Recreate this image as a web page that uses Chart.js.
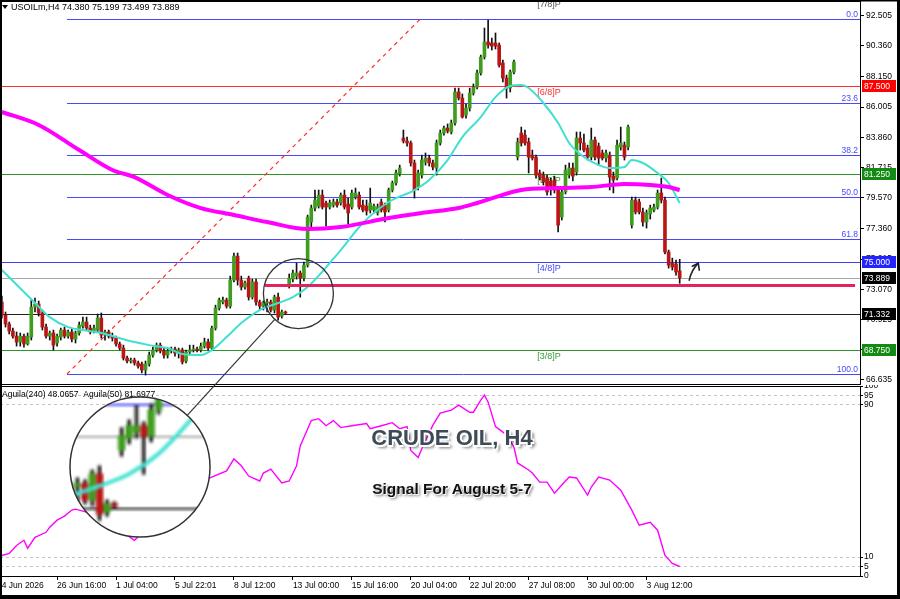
<!DOCTYPE html>
<html><head><meta charset="utf-8">
<script src="https://cdn.jsdelivr.net/npm/chart.js@4.4.0/dist/chart.umd.min.js"></script>
<style>
html,body{margin:0;padding:0;background:#fff;}
#wrap{position:relative;width:900px;height:599px;overflow:hidden;background:#fff;}
#c1{position:absolute;left:0;top:0;}
#c2{position:absolute;left:0;top:385px;}
#ov{position:absolute;left:0;top:0;pointer-events:none;}
.txt{position:absolute;left:300px;width:304px;text-align:center;font-family:"Liberation Sans",Arial,sans-serif;font-weight:bold;white-space:nowrap;}
#title{top:425px;font-size:22px;color:#3d4b56;
 text-shadow:-1.5px -1.5px 0 #fff,1.5px -1.5px 0 #fff,-1.5px 1.5px 0 #fff,1.5px 1.5px 0 #fff,3px 3px 3px rgba(0,0,0,.55);}
#sub{top:480px;font-size:15.5px;color:#111;text-shadow:1px 1px 0 #fff,2px 2px 3px rgba(0,0,0,.6);}
</style></head>
<body>
<div id="wrap">
<canvas id="c1" width="900" height="386"></canvas>
<canvas id="c2" width="900" height="214"></canvas>
<canvas id="ov" width="900" height="599"></canvas>
<div id="title" class="txt">CRUDE OIL, H4</div>
<div id="sub" class="txt">Signal For August 5-7</div>
</div>
<script>
// ---------------- DATA ----------------
const symbolText = 'USOILm,H4';
const lastQuote = ['74.380','75.199','73.499','73.889'];
const opens = [72.17,71.25,70.61,70.11,69.75,69.33,69.75,69.19,69.68,71.81,
72.03,71.39,70.39,69.75,69.97,69.26,69.68,70.18,69.75,70.04,
69.54,69.97,70.46,70.75,70.32,70.11,70.18,71.03,69.82,70.04,
69.75,69.61,69.19,68.90,68.19,67.98,68.05,67.84,67.77,67.34,
67.77,68.40,68.76,69.11,68.69,68.40,68.69,68.83,68.55,68.76,
67.98,68.62,68.76,68.83,68.76,69.04,69.33,68.90,70.32,71.74,
72.17,72.31,71.88,73.73,75.43,73.73,73.23,73.87,72.52,73.59,
72.17,71.88,72.10,72.17,71.60,72.52,71.17,71.46,73.37,73.80,
74.01,74.23,73.87,74.79,77.85,78.84,78.98,79.76,79.20,78.91,
79.05,79.27,79.20,79.76,79.13,78.91,79.62,79.76,79.05,78.98,
78.70,78.70,78.49,79.27,79.05,78.70,80.12,80.62,81.26,83.81,
83.60,83.46,82.04,80.33,81.18,82.11,82.39,82.04,81.68,83.46,
84.17,84.52,84.24,84.88,87.08,86.65,85.44,85.94,87.01,87.43,
88.43,89.56,90.63,90.56,90.56,90.41,89.14,88.07,87.36,88.50,
82.46,84.17,84.02,83.53,82.60,82.46,81.33,81.18,80.97,80.76,
80.83,80.12,78.20,79.98,81.18,81.68,81.40,83.81,83.46,83.10,
82.46,83.67,83.24,82.75,82.39,82.60,81.11,80.97,83.17,83.31,
83.17,77.63,79.41,79.27,78.56,77.85,78.42,78.70,78.91,79.91,
79.41,75.72,74.94,74.87,74.38];
const highs = [72.59,71.46,70.75,70.32,70.04,69.97,69.90,69.97,72.31,72.45,
72.24,71.60,70.61,70.11,70.18,69.90,70.32,70.39,70.18,70.25,
70.11,70.75,71.10,71.10,70.53,70.53,71.32,71.39,70.18,70.18,
69.97,69.75,69.33,69.11,68.33,68.19,68.19,67.98,67.91,67.98,
68.62,68.97,69.26,69.26,68.90,68.83,68.97,68.97,68.90,68.90,
68.76,69.11,69.11,68.97,69.26,69.61,69.54,70.46,71.95,72.45,
72.52,72.45,74.01,75.65,75.65,74.01,73.66,74.01,73.80,73.80,
72.31,72.24,72.38,72.31,72.66,72.81,71.60,71.53,74.16,74.44,
74.94,74.37,75.01,78.34,79.05,80.12,80.12,80.12,79.34,79.41,
79.48,79.48,79.91,80.12,79.55,80.12,80.26,79.98,79.41,79.41,
80.26,79.13,79.13,79.48,79.20,80.26,80.76,81.54,81.89,84.38,
83.88,83.60,82.25,81.54,82.60,82.75,82.60,82.25,83.67,84.38,
84.66,84.81,85.09,87.36,87.36,86.94,86.23,87.36,87.65,88.64,
89.70,91.62,92.19,90.91,91.27,90.56,89.35,88.28,88.64,89.35,
83.81,84.59,84.38,83.81,82.96,82.60,81.54,81.40,81.18,80.97,
81.11,80.33,80.12,81.89,82.04,82.04,84.24,84.24,84.10,83.31,
84.52,83.88,83.46,82.96,82.96,82.82,81.40,83.67,84.59,83.53,
84.73,79.62,79.62,79.48,78.84,78.70,79.05,79.13,80.12,80.97,
79.62,75.86,75.29,75.15,75.199];
const lows = [71.03,70.39,69.90,69.61,69.04,69.04,68.97,69.11,69.47,71.46,
71.17,70.18,69.61,69.47,68.76,69.04,69.47,69.61,69.61,69.33,
69.26,69.82,70.32,70.18,69.90,69.97,70.04,69.61,69.47,69.61,
69.40,69.04,68.76,68.05,67.84,67.84,67.69,67.48,67.13,66.98,
67.62,68.26,68.62,68.55,68.19,68.19,68.55,68.33,68.19,67.77,
67.84,68.40,68.62,68.62,68.62,68.90,68.76,68.76,70.18,71.60,
72.03,71.74,71.74,73.59,73.37,73.02,73.09,72.31,72.38,71.95,
71.67,71.60,71.46,71.46,71.39,70.89,71.03,71.32,73.16,73.59,
73.80,72.52,73.66,74.65,77.42,78.63,78.84,78.77,77.56,78.77,
78.91,78.91,79.05,78.77,77.71,78.77,79.48,78.77,78.56,78.34,
78.49,78.49,78.34,78.56,77.85,78.56,79.98,80.47,81.11,83.46,
83.24,81.82,79.55,80.12,80.97,81.89,81.82,81.54,81.18,83.31,
84.02,84.17,84.10,84.73,86.51,85.23,85.23,85.73,86.86,87.29,
88.28,89.42,90.20,90.06,90.13,88.85,87.79,86.65,87.08,88.36,
82.25,83.24,83.31,81.33,82.25,80.97,80.83,80.47,79.76,79.76,
79.91,77.14,77.99,79.84,80.97,80.76,81.18,82.96,82.82,82.25,
82.25,82.25,81.89,82.25,82.11,80.12,79.91,80.83,82.96,82.25,
82.96,77.42,78.42,78.42,77.56,77.42,78.06,78.56,78.77,79.20,
75.58,74.58,74.44,74.08,73.499];
const closes = [71.25,70.61,70.11,69.75,69.33,69.75,69.19,69.75,71.81,72.03,
71.39,70.39,69.75,69.97,69.11,69.75,70.18,69.75,70.04,69.54,
69.97,70.53,70.75,70.32,70.04,70.32,71.03,69.82,70.04,69.75,
69.61,69.19,68.90,68.19,67.98,68.05,67.84,67.62,67.34,67.77,
68.40,68.76,69.11,68.69,68.40,68.69,68.83,68.55,68.76,67.91,
68.62,68.76,68.83,68.76,69.04,69.33,68.90,70.32,71.74,72.31,
72.31,71.88,73.73,75.43,73.73,73.23,73.52,72.52,73.59,72.17,
71.88,72.10,72.17,71.60,72.52,71.10,71.46,71.39,73.87,74.23,
74.23,73.87,74.79,78.20,78.84,79.41,79.76,78.91,78.91,79.20,
79.27,79.05,79.76,78.91,78.49,79.91,79.91,78.91,78.70,78.63,
79.20,78.98,78.91,78.70,78.56,80.12,80.62,81.33,81.68,83.60,
83.46,82.04,80.12,81.33,82.25,82.39,82.04,81.75,83.46,84.17,
84.52,84.31,84.88,87.08,86.65,85.30,85.94,87.01,87.43,88.43,
89.56,90.63,90.41,90.34,90.34,88.99,88.07,87.36,88.50,89.21,
83.53,83.46,83.46,82.46,82.39,81.18,81.04,80.69,79.98,80.33,
80.12,77.63,79.98,81.54,81.68,81.11,83.81,83.46,82.96,82.46,
83.67,82.46,82.39,82.39,82.75,81.04,80.83,83.31,83.46,82.46,
84.59,79.41,78.56,78.56,77.85,78.49,78.84,78.91,79.91,79.41,
75.72,74.79,74.65,74.30,73.889];

// moving average lines at these bar indices
const ma20Idx  = [0,9,13,18,22,27,31,36,40,45,49,54,57,61,65,70,75,79,83,92,98,105,112,116,121,125,130,134,138,141,143,147,151,154,158,162,165,169,171,174,178,181,184];
const ma20Vals = [74.44,72.10,71.10,70.39,70.18,69.97,69.68,69.33,69.11,68.90,68.48,68.40,68.76,69.68,70.68,71.60,72.10,72.52,73.23,75.86,77.78,79.27,80.12,80.83,82.25,83.88,85.30,86.72,87.50,87.57,87.36,86.30,84.88,83.46,82.46,81.89,81.68,81.75,82.25,82.04,81.33,80.62,79.20];
const ma200Idx  = [0,10,21,30,36,45,54,63,72,83,92,105,114,124,129,134,141,151,160,169,176,181,184];
const ma200Vals = [85.66,84.74,82.96,81.54,81.04,79.77,78.84,78.35,77.85,77.35,77.49,78.13,78.49,78.84,79.20,79.62,80.12,80.26,80.33,80.55,80.48,80.33,80.12];

// Aguila oscillator (0-100)
const aguilaIdx  = [0,2,4,6,7,9,12,13,15,17,19,20,27,32,36,40,46,51,56,61,63,65,67,70,71,73,76,78,80,81,84,86,88,90,92,95,99,100,103,106,108,110,111,113,115,117,119,122,124,127,128,130,131,132,134,137,139,140,143,144,146,148,150,152,154,156,159,160,162,165,168,171,173,176,178,180,182,184];
const aguilaVals = [10.8,11.9,16.1,18.8,14.6,20.4,23.0,25.7,29.4,31.5,34.7,35.2,31.5,24.1,18.8,26.2,37.0,45.0,51.3,55.3,61.6,58.0,52.6,50.0,54.2,56.3,49.0,50.0,58.0,68.5,81.8,82.8,79.1,81.8,78.1,79.1,80.2,77.5,79.1,80.7,77.5,78.6,66.1,62.4,71.4,79.4,85.7,87.3,89.9,86.2,86.2,92.6,95.2,91.5,78.6,74.3,67.9,59.5,55.8,54.2,49.4,49.4,43.6,47.9,52.1,51.6,42.6,46.8,52.1,50.5,45.2,34.7,26.7,28.3,24.1,10.8,6.6,5.0];
const aguilaLegend = 'Aguila(240) 48.0657  Aguila(50) 81.6977';
const aguilaTicks = [0,5,10,90,95,100];

// axes
const priceTicks = [92.505,90.360,88.150,86.005,83.860,81.715,79.570,77.360,75.215,73.070,70.925,68.780,66.635];
const xTickIdx = [15,31,47,63,79,95,111,127,143,159,175];
const xTickLabels = ['26 Jun 16:00','1 Jul 04:00','5 Jul 22:01','8 Jul 12:00','13 Jul 00:00','15 Jul 16:00','20 Jul 04:00','22 Jul 20:00','27 Jul 08:00','30 Jul 00:00','3 Aug 12:00'];
const firstDateLabel = '24 Jun 2026';

// levels
const hLevels      = [87.5, 81.25, 75.0, 73.889, 71.332, 68.75];
const hLevelTags   = ['87.500','81.250','75.000','73.889','71.332','68.750'];
const murreyVals   = [93.75, 87.5, 81.25, 75.0, 68.75];
const murreyLabels = ['[7/8]P','[6/8]P','[5/8]P','[4/8]P','[3/8]P'];
const fibHigh = 92.24, fibLow = 67.06;
const fibRatios = [0, 0.236, 0.382, 0.5, 0.618, 1.0];
const fibLabels = ['0.0','23.6','38.2','50.0','61.8','100.0'];
const fibStartIdx = 17.7, fibTrendEndIdx = 113.5;
const supportVal = 73.38, supportFromIdx = 71.4, supportToIdx = 231.6;
const circleIdx = 80.5, circlePrice = 72.77;
const arrowIdx = 186.6, arrowPrice = 73.72;

// ---------------- STYLE ----------------
const FONT = '"Liberation Sans", Arial, sans-serif';
const BULL = '#3f9c1c', BEAR = '#bb1616';
const hLevelColors = ['#ff3030','#2a962a','#4040ff','#a8a8a8','#222222','#2a962a'];
const tagColors    = ['#ff0000','#138a13','#2424ff','#000000','#000000','#138a13'];
const murreyColors = ['#555555','#ff3030','#3a9a3a','#4646ff','#3a9a3a'];
const FIB = '#4848ff';
const X_MIN = -0.5, X_MAX = 860/3.684 - 0.5;
Chart.defaults.font.family = FONT;
Chart.defaults.font.size = 8.5;
Chart.defaults.color = '#000';

const idx = closes.map((_, i) => i);
const wickData = idx.map(i => ({x: i, y: [lows[i], highs[i]]}));
const bodyData = idx.map(i => ({x: i, y: [opens[i], closes[i]]}));
const bodyColors = idx.map(i => closes[i] >= opens[i] ? BULL : BEAR);
const ma20 = ma20Idx.map((x, k) => ({x, y: ma20Vals[k]}));
const ma200 = ma200Idx.map((x, k) => ({x, y: ma200Vals[k]}));
const aguila = aguilaIdx.map((x, k) => ({x, y: aguilaVals[k]}));

let SNAP = null;
const R_SMALL = 35;

function hline(ctx, x1, x2, y, color, w, dash) {
  ctx.save(); ctx.strokeStyle = color; ctx.lineWidth = w || 1;
  ctx.setLineDash(dash || []);
  const yy = Math.round(y) + ((w || 1) % 2 ? 0.5 : 0);
  ctx.beginPath(); ctx.moveTo(x1, yy); ctx.lineTo(x2, yy); ctx.stroke(); ctx.restore();
}

const mainPlugin = {
  id: 'mainDecor',
  beforeDatasetsDraw(chart) {
    const {ctx, chartArea: a, scales: {x, y}} = chart;
    ctx.save();
    ctx.beginPath(); ctx.rect(a.left, a.top, a.right - a.left, a.bottom - a.top); ctx.clip();
    hLevels.forEach((v, k) => hline(ctx, a.left, a.right, y.getPixelForValue(v), hLevelColors[k], 1));
    const fx = x.getPixelForValue(fibStartIdx);
    ctx.font = '8.5px ' + FONT; ctx.textAlign = 'right'; ctx.textBaseline = 'bottom'; ctx.fillStyle = FIB;
    fibRatios.forEach((r, k) => {
      const py = y.getPixelForValue(fibHigh - r * (fibHigh - fibLow));
      hline(ctx, fx, a.right, py, FIB, 1);
      ctx.fillText(fibLabels[k], a.right - 2, Math.round(py));
    });
    ctx.save(); ctx.strokeStyle = '#ff2a2a'; ctx.lineWidth = 1.2; ctx.setLineDash([4, 4]);
    ctx.beginPath();
    ctx.moveTo(fx, y.getPixelForValue(fibLow));
    ctx.lineTo(x.getPixelForValue(fibTrendEndIdx), y.getPixelForValue(fibHigh));
    ctx.stroke(); ctx.restore();
    ctx.textAlign = 'left'; ctx.textBaseline = 'top'; ctx.font = '9px ' + FONT;
    murreyVals.forEach((v, k) => {
      ctx.fillStyle = murreyColors[k];
      ctx.fillText(murreyLabels[k], x.getPixelForValue(145.3), y.getPixelForValue(v) + 2);
    });
    ctx.restore();
  },
  afterDatasetsDraw(chart) {
    const {ctx, scales: {x, y}} = chart;
    const cx = x.getPixelForValue(circleIdx), cy = y.getPixelForValue(circlePrice);
    SNAP = document.createElement('canvas');
    SNAP.width = 2 * R_SMALL; SNAP.height = 2 * R_SMALL;
    SNAP.getContext('2d').drawImage(chart.canvas, cx - R_SMALL, cy - R_SMALL, 2 * R_SMALL, 2 * R_SMALL, 0, 0, 2 * R_SMALL, 2 * R_SMALL);
    SNAP.cx = cx; SNAP.cy = cy;
    hline(ctx, x.getPixelForValue(supportFromIdx), x.getPixelForValue(supportToIdx), y.getPixelForValue(supportVal), '#e2245e', 3);
    ctx.save(); ctx.strokeStyle = '#333'; ctx.lineWidth = 1.3;
    ctx.beginPath(); ctx.arc(cx, cy, R_SMALL, 0, Math.PI * 2); ctx.stroke();
    const ax = x.getPixelForValue(arrowIdx), ay = y.getPixelForValue(arrowPrice);
    ctx.strokeStyle = '#222'; ctx.lineWidth = 1.6; ctx.lineCap = 'round';
    ctx.beginPath(); ctx.moveTo(ax, ay); ctx.quadraticCurveTo(ax + 2, ay - 10, ax + 9, ay - 17); ctx.stroke();
    ctx.beginPath(); ctx.moveTo(ax + 3, ay - 14); ctx.lineTo(ax + 9, ay - 17); ctx.lineTo(ax + 10, ay - 10); ctx.stroke();
    ctx.restore();
  },
  afterDraw(chart) {
    const {ctx, chartArea: a, scales: {y}} = chart;
    ctx.save();
    ctx.strokeStyle = '#000'; ctx.lineWidth = 1;
    ctx.strokeRect(a.left + 0.5, a.top + 0.5, a.right - a.left, a.bottom - a.top);
    ctx.fillStyle = '#000';
    ctx.beginPath(); ctx.moveTo(2, 5); ctx.lineTo(8, 5); ctx.lineTo(5, 9); ctx.closePath(); ctx.fill();
    ctx.font = '9px ' + FONT; ctx.textAlign = 'left'; ctx.textBaseline = 'middle';
    ctx.fillText(symbolText + ' ' + lastQuote.join(' '), 11, 7.5);
    ctx.font = '8.5px ' + FONT;
    hLevels.forEach((v, k) => {
      const py = Math.round(y.getPixelForValue(v));
      ctx.fillStyle = tagColors[k];
      ctx.fillRect(862, py - 6, 34, 12);
      ctx.fillStyle = '#fff';
      ctx.fillText(hLevelTags[k], 864, py + 0.5);
    });
    ctx.restore();
  }
};

new Chart(document.getElementById('c1'), {
  type: 'bar',
  data: {
    datasets: [
      {type: 'line', data: ma200, borderColor: '#ff00ff', borderWidth: 4, pointRadius: 0, cubicInterpolationMode: 'monotone', order: 0},
      {type: 'line', data: ma20, borderColor: '#40e0d0', borderWidth: 2, pointRadius: 0, cubicInterpolationMode: 'monotone', order: 0},
      {type: 'bar', data: bodyData, backgroundColor: bodyColors, barThickness: 3, minBarLength: 1, grouped: false, order: 1},
      {type: 'bar', data: wickData, backgroundColor: '#111', barThickness: 1, grouped: false, order: 2}
    ]
  },
  options: {
    responsive: false, animation: false, events: [],
    layout: {padding: {top: 1, bottom: 2, left: 0, right: 0}},
    plugins: {legend: {display: false}, tooltip: {enabled: false}},
    scales: {
      x: {type: 'linear', display: false, offset: false, bounds: 'data', min: X_MIN, max: X_MAX},
      y: {
        position: 'right', min: 66.35, max: 93.54,
        afterBuildTicks: s => { s.ticks = priceTicks.map(v => ({value: v})); },
        afterFit: s => { s.width = 40; s.paddingTop = 0; s.paddingBottom = 0; },
        ticks: {autoSkip: false, padding: 2, callback: v => Number(v).toFixed(3), font: {size: 8.5}, color: '#000'},
        grid: {drawOnChartArea: false, drawTicks: true, tickLength: 4, color: '#000'},
        border: {display: true, color: '#000', width: 1}
      }
    }
  },
  plugins: [mainPlugin]
});

const subPlugin = {
  id: 'subDecor',
  afterDraw(chart) {
    const {ctx, chartArea: a} = chart;
    ctx.save();
    ctx.strokeStyle = '#000'; ctx.lineWidth = 1;
    ctx.strokeRect(a.left + 0.5, a.top + 0.5, a.right - a.left, a.bottom - a.top);
    ctx.fillStyle = '#000'; ctx.font = '8.5px ' + FONT; ctx.textBaseline = 'middle'; ctx.textAlign = 'left';
    ctx.fillText(aguilaLegend, 2, 9.5);
    ctx.fillText(firstDateLabel, -3, 200.5);
    ctx.restore();
  }
};

new Chart(document.getElementById('c2'), {
  type: 'line',
  data: {datasets: [{data: aguila, borderColor: '#ff00ff', borderWidth: 1.4, pointRadius: 0, tension: 0}]},
  options: {
    responsive: false, animation: false, events: [],
    layout: {padding: {top: 1, bottom: 0, left: 0, right: 0}},
    plugins: {legend: {display: false}, tooltip: {enabled: false}},
    scales: {
      x: {
        type: 'linear', min: X_MIN, max: X_MAX, offset: false,
        afterBuildTicks: s => { s.ticks = xTickIdx.map(v => ({value: v})); },
        afterFit: s => { s.height = 23; s.paddingLeft = 0; s.paddingRight = 0; },
        ticks: {autoSkip: false, maxRotation: 0, align: 'start', padding: 1, font: {size: 8.5}, color: '#000',
          callback: v => { const k = xTickIdx.indexOf(v); return k >= 0 ? xTickLabels[k] : ''; }},
        grid: {drawOnChartArea: false, drawTicks: true, tickLength: 4, color: '#000'},
        border: {display: true, color: '#000'}
      },
      y: {
        position: 'right', min: 0, max: 100,
        afterBuildTicks: s => { s.ticks = aguilaTicks.map(v => ({value: v})); },
        afterFit: s => { s.width = 40; s.paddingTop = 0; s.paddingBottom = 0; },
        ticks: {autoSkip: false, padding: 1, font: {size: 8.5}, color: '#000'},
        grid: {drawTicks: true, tickLength: 3, tickColor: '#000',
          color: c => (c.tick && (c.tick.value === 0 || c.tick.value === 100)) ? 'rgba(0,0,0,0)' : '#c4c4c4'},
        border: {display: true, color: '#000', dash: [3, 3]}
      }
    }
  },
  plugins: [subPlugin]
});

(function () {
  const c = document.getElementById('ov').getContext('2d');
  const BX = 140, BY = 467, BR = 70;
  if (SNAP) {
    c.save();
    c.beginPath(); c.arc(BX, BY, BR, 0, Math.PI * 2); c.closePath();
    c.fillStyle = '#fff'; c.fill(); c.clip();
    c.imageSmoothingEnabled = true;
    c.drawImage(SNAP, BX - BR, BY - BR, 2 * BR, 2 * BR);
    c.restore();
    c.save(); c.strokeStyle = '#333'; c.lineWidth = 1.5;
    c.beginPath(); c.arc(BX, BY, BR, 0, Math.PI * 2); c.stroke();
    const dx = BX - SNAP.cx, dy = BY - SNAP.cy, d = Math.hypot(dx, dy);
    const ux = dx / d, uy = dy / d;
    c.lineWidth = 1.2;
    c.beginPath();
    c.moveTo(SNAP.cx + ux * R_SMALL, SNAP.cy + uy * R_SMALL);
    c.lineTo(BX - ux * BR, BY - uy * BR);
    c.stroke(); c.restore();
  }
  c.fillStyle = '#000';
  c.fillRect(0, 0, 900, 1.5);
  c.fillRect(0, 0, 2, 599);
  c.fillRect(897, 0, 3, 599);
  c.fillRect(0, 595, 900, 4);
})();
</script>
</body></html>
